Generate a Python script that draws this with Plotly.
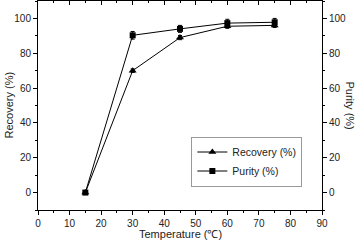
import plotly.graph_objects as go

temperature = [15, 30, 45, 60, 75]
recovery = [0, 70, 89, 95.5, 96]
recovery_err = [0, 1, 1.2, 1.2, 1.2]
purity = [0, 90.3, 94, 97.3, 97.8]
purity_err = [0, 2.2, 2, 2.2, 2.2]

x_ticks = [0, 10, 20, 30, 40, 50, 60, 70, 80, 90]
y_ticks = [0, 20, 40, 60, 80, 100]

font = "Liberation Sans, Arial, sans-serif"
fig = go.Figure()

fig.add_trace(go.Scatter(
    x=temperature, y=recovery, name="Recovery (%)", mode="lines+markers",
    line=dict(color="black", width=1),
    marker=dict(symbol="triangle-up", size=7, color="black"),
    error_y=dict(type="data", array=recovery_err, color="black", thickness=1, width=2),
))
fig.add_trace(go.Scatter(
    x=temperature, y=purity, name="Purity (%)", mode="lines+markers",
    line=dict(color="black", width=1),
    marker=dict(symbol="square", size=6, color="black"),
    error_y=dict(type="data", array=purity_err, color="black", thickness=1, width=2),
    yaxis="y2",
))
# invisible trace to activate top axis
fig.add_trace(go.Scatter(x=[None], y=[None], xaxis="x2", showlegend=False))

axis_common = dict(showline=True, linecolor="black", linewidth=1, showgrid=False,
                   zeroline=False, ticks="outside", ticklen=4, tickcolor="black",
                   automargin=False,
                   tickfont=dict(family=font, size=10, color="#222222"))

fig.update_layout(
    width=358, height=241,
    margin=dict(l=38, r=36, t=1, b=31, autoexpand=False),
    paper_bgcolor="white", plot_bgcolor="white",
    xaxis=dict(range=[0, 90], tickvals=x_ticks, ticktext=[str(v) for v in x_ticks],
               minor=dict(dtick=5, ticks="outside", ticklen=2, tickcolor="black"),
               **axis_common),
    xaxis2=dict(range=[0, 90], overlaying="x", side="top", showticklabels=False,
                showline=True, linecolor="black", linewidth=1, showgrid=False, zeroline=False,
                automargin=False,
                ticks="inside", ticklen=4, tickcolor="black", tickvals=x_ticks,
                minor=dict(dtick=5, ticks="inside", ticklen=2, tickcolor="black")),
    yaxis=dict(range=[-10, 110], tickvals=y_ticks, ticktext=[str(v) for v in y_ticks],
               minor=dict(dtick=10, ticks="outside", ticklen=2, tickcolor="black"),
               **axis_common),
    yaxis2=dict(range=[-10, 110], overlaying="y", side="right", tickvals=y_ticks,
                ticktext=[str(v) for v in y_ticks],
                minor=dict(dtick=10, ticks="outside", ticklen=2, tickcolor="black"),
                **axis_common),
    legend=dict(x=0.54, y=0.232, xanchor="left", yanchor="middle",
                bgcolor="white", bordercolor="#999999", borderwidth=1,
                font=dict(family=font, size=10.5, color="#222222"),
                tracegroupgap=0, itemwidth=30),
    showlegend=True,
    annotations=[
        dict(text="Temperature (℃)", xref="paper", yref="paper", x=0.5, y=-0.117,
             yanchor="middle", showarrow=False, font=dict(family=font, size=11, color="#222222")),
        dict(text="Recovery (%)", xref="paper", x=0, xshift=-30, xanchor="center",
             yref="paper", y=0.5, textangle=-90, showarrow=False,
             font=dict(family=font, size=11, color="#222222")),
        dict(text="Purity (%)", xref="paper", x=1, xshift=28, xanchor="center",
             yref="paper", y=0.5, textangle=90, showarrow=False,
             font=dict(family=font, size=11, color="#222222")),
    ],
)

fig.write_html("out.html", config={"displayModeBar": False},
               post_script="document.body.style.margin='0';")
